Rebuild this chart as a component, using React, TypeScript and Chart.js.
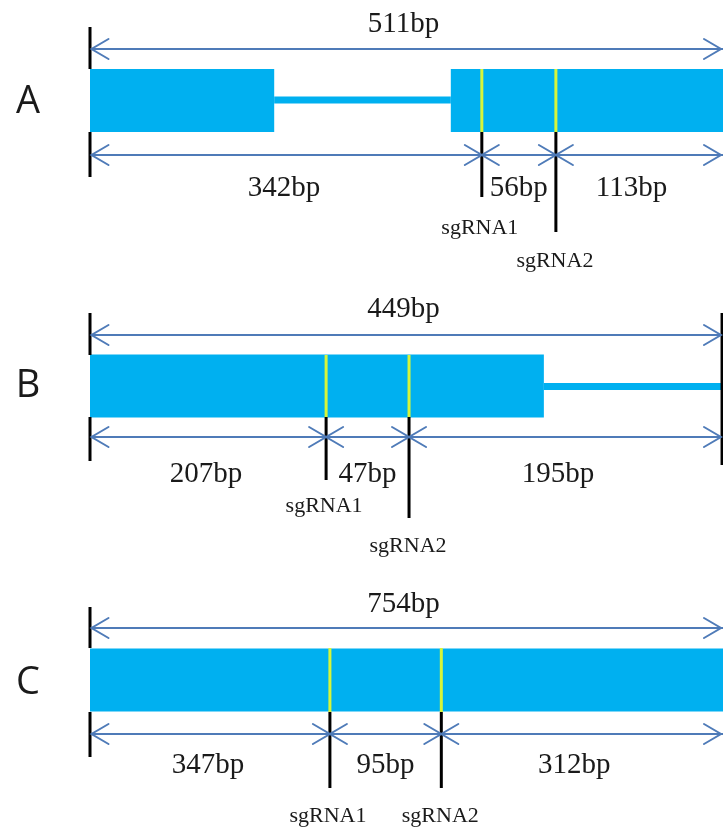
import React, { useEffect, useRef } from 'react';
import { Chart, registerables } from 'chart.js';

Chart.register(...registerables);

// ---- data ----
const PANELS = ['A', 'B', 'C'];
const TOTAL_BP = [511, 449, 754];
const LEFT_BP = [342, 207, 347];
const MID_BP = [56, 47, 95];
const RIGHT_BP = [113, 195, 312];
// schematic positions (0 = gene start, 100 = right edge of the drawing)
const SG1_POS = [61.9, 37.3, 37.9];
const SG2_POS = [73.6, 50.4, 55.5];
const EXONS: number[][][] = [
  [[0, 29.1], [57.0, 100]],
  [[0, 71.7]],
  [[0, 100]],
];
const INTRONS: number[][][] = [[[29.1, 57.0]], [[71.7, 100]], []];
const RIGHT_TICK = [false, true, false];
const GENE_END = 100;

// ---- layout (vertical placement of each panel, in page pixels) ----
const LAYOUT = [
  { tickTop: 27, arrowTop: 49, barTop: 69, barBot: 132, intronY: 100, arrowBot: 155, tickBot: 177, cut1End: 197, cut2End: 232, totalBase: 32, bpBase: 196, sg1Base: 234, sg2Base: 267, letterY: 102 },
  { tickTop: 313, arrowTop: 335, barTop: 355, barBot: 417, intronY: 386.5, arrowBot: 437, tickBot: 461, cut1End: 480, cut2End: 518, totalBase: 317, bpBase: 482, sg1Base: 512, sg2Base: 552, letterY: 386 },
  { tickTop: 607, arrowTop: 628, barTop: 648, barBot: 712, intronY: 680, arrowBot: 734, tickBot: 757, cut1End: 788, cut2End: 788, totalBase: 612, bpBase: 773, sg1Base: 822, sg2Base: 822, letterY: 683 },
];

const BLUE = '#00b0f0';
const YELLOW = '#d6f53a';
const ARROW = '#4f7bb8';
const BLACK = '#000000';
const TEXT = '#1a1a1a';

type Seg = [[number, number], [number, number]];

function toData(segs: Seg[]) {
  const out: { x: number; y: number | null }[] = [];
  segs.forEach(([a, b]) => {
    out.push({ x: a[0], y: a[1] });
    out.push({ x: b[0], y: b[1] });
    out.push({ x: b[0], y: null });
  });
  return out;
}

function lineDs(segs: Seg[], color: string, width: number) {
  return {
    data: toData(segs),
    borderColor: color,
    backgroundColor: color,
    borderWidth: width,
    borderCapStyle: 'butt' as const,
    pointRadius: 0,
    pointHoverRadius: 0,
    tension: 0,
    spanGaps: false,
    fill: false,
    clip: false as const,
  };
}

export default function App() {
  const ref = useRef<HTMLCanvasElement>(null);

  useEffect(() => {
    if (!ref.current) return;

    const exonSegs: Seg[] = [];
    const intronSegs: Seg[] = [];
    const yellowSegs: Seg[] = [];
    const blackSegs: Seg[] = [];
    const dimSegs: Seg[] = [];
    const arrows: { x1: number; x2: number; y: number; full: boolean }[] = [];

    PANELS.forEach((_, i) => {
      const L = LAYOUT[i];
      const yc = (L.barTop + L.barBot) / 2;
      EXONS[i].forEach(([a, b]) => exonSegs.push([[a, yc], [b, yc]]));
      INTRONS[i].forEach(([a, b]) => intronSegs.push([[a, L.intronY], [b, L.intronY]]));
      [SG1_POS[i], SG2_POS[i]].forEach((p) => yellowSegs.push([[p, L.barTop], [p, L.barBot]]));
      // ticks at gene start
      blackSegs.push([[0, L.tickTop], [0, L.barTop]]);
      blackSegs.push([[0, L.barBot], [0, L.tickBot]]);
      if (RIGHT_TICK[i]) blackSegs.push([[GENE_END - 0.15, L.tickTop], [GENE_END - 0.15, L.tickBot + 4]]);
      blackSegs.push([[SG1_POS[i], L.barBot], [SG1_POS[i], L.cut1End]]);
      blackSegs.push([[SG2_POS[i], L.barBot], [SG2_POS[i], L.cut2End]]);
      // dimension lines
      dimSegs.push([[0, L.arrowTop], [GENE_END, L.arrowTop]]);
      dimSegs.push([[0, L.arrowBot], [GENE_END, L.arrowBot]]);
      arrows.push({ x1: 0, x2: GENE_END, y: L.arrowTop, full: true });
      arrows.push({ x1: 0, x2: SG1_POS[i], y: L.arrowBot, full: false });
      arrows.push({ x1: SG1_POS[i], x2: SG2_POS[i], y: L.arrowBot, full: false });
      arrows.push({ x1: SG2_POS[i], x2: GENE_END, y: L.arrowBot, full: false });
    });

    const annot = {
      id: 'annot',
      afterDatasetsDraw(chart: any) {
        const ctx = chart.ctx as CanvasRenderingContext2D;
        const xs = chart.scales.x;
        const ys = chart.scales.y;
        ctx.save();
        // arrowheads
        ctx.strokeStyle = ARROW;
        ctx.lineWidth = 2;
        ctx.lineCap = 'round';
        ctx.lineJoin = 'miter';
        const head = (tipX: number, y: number, dir: number) => {
          ctx.beginPath();
          ctx.moveTo(tipX + dir * 17, y - 10);
          ctx.lineTo(tipX, y);
          ctx.lineTo(tipX + dir * 17, y + 10);
          ctx.stroke();
        };
        arrows.forEach((a) => {
          const py = ys.getPixelForValue(a.y);
          let p1 = xs.getPixelForValue(a.x1);
          let p2 = xs.getPixelForValue(a.x2);
          if (a.x1 === 0) p1 += 1.5;
          if (a.x2 === GENE_END) p2 -= 2;
          head(p1, py, 1);
          head(p2, py, -1);
        });

        ctx.fillStyle = TEXT;
        ctx.textAlign = 'center';
        ctx.textBaseline = 'alphabetic';
        PANELS.forEach((name, i) => {
          const L = LAYOUT[i];
          // panel letter
          ctx.font = '38px "Open Sans", "Noto Sans", sans-serif';
          ctx.textBaseline = 'middle';
          ctx.fillText(name, 28, ys.getPixelForValue(L.letterY));
          ctx.textBaseline = 'alphabetic';
          // bp labels
          ctx.font = '29px "Liberation Serif", "DejaVu Serif", serif';
          const mid = (a: number, b: number) => (xs.getPixelForValue(a) + xs.getPixelForValue(b)) / 2;
          ctx.fillText(TOTAL_BP[i] + 'bp', mid(0, GENE_END) - 3, ys.getPixelForValue(L.totalBase));
          const by = ys.getPixelForValue(L.bpBase);
          ctx.fillText(LEFT_BP[i] + 'bp', mid(0, SG1_POS[i]) - 2, by);
          ctx.fillText(MID_BP[i] + 'bp', mid(SG1_POS[i], SG2_POS[i]), by);
          ctx.fillText(RIGHT_BP[i] + 'bp', mid(SG2_POS[i], GENE_END) - 8, by);
          // sgRNA labels
          ctx.font = '22px "Liberation Serif", "DejaVu Serif", serif';
          ctx.fillText('sgRNA1', xs.getPixelForValue(SG1_POS[i]) - 2, ys.getPixelForValue(L.sg1Base));
          ctx.fillText('sgRNA2', xs.getPixelForValue(SG2_POS[i]) - 1, ys.getPixelForValue(L.sg2Base));
        });
        ctx.restore();
      },
    };

    const chart = new Chart(ref.current, {
      type: 'line',
      data: {
        datasets: [
          lineDs(blackSegs, BLACK, 3),
          lineDs(yellowSegs, YELLOW, 3),
          lineDs(dimSegs, ARROW, 2),
          lineDs(intronSegs, BLUE, 7),
          lineDs(exonSegs, BLUE, 63),
        ] as any,
      },
      options: {
        animation: false,
        responsive: false,
        devicePixelRatio: 1,
        events: [],
        layout: { padding: { left: 90, right: 0, top: 0, bottom: 0 } },
        plugins: { legend: { display: false }, tooltip: { enabled: false } },
        scales: {
          x: { type: 'linear', min: 0, max: GENE_END, display: false },
          y: { type: 'linear', min: 0, max: 827, reverse: true, display: false },
        },
      },
      plugins: [annot],
    });
    return () => chart.destroy();
  }, []);

  return (
    <canvas
      ref={ref}
      width={723}
      height={827}
      style={{ position: 'absolute', left: 0, top: 0, width: 723, height: 827, background: '#ffffff' }}
    />
  );
}
